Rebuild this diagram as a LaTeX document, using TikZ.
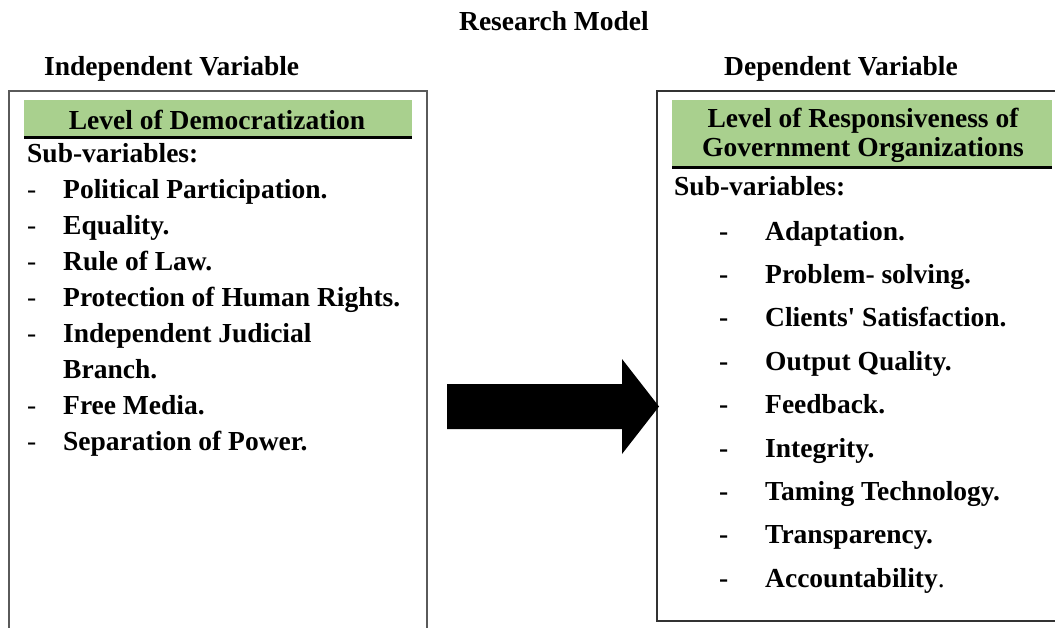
\documentclass[tikz,border=0pt]{standalone}
\usepackage{fontspec}
% a family without the TeX quote mapping, so ' stays a straight apostrophe
\newfontfamily\tnr{Liberation Serif}
\definecolor{headgreen}{RGB}{169,208,142}
\definecolor{framegray}{RGB}{90,90,90}
\begin{document}
\begin{tikzpicture}[x=1pt,y=-1pt,
  lbl/.style={inner sep=0pt, font=\tnr\fontsize{27.5}{30}\selectfont\bfseries},
  item/.style={lbl, anchor=base west},
  ldash/.style={inner sep=0pt, anchor=base west, font=\tnr\fontsize{27.5}{30}\selectfont},
  rdash/.style={item},
  headband/.style={fill=headgreen, draw=none},
  headrule/.style={line width=3pt, draw=black},
]
\useasboundingbox (0,0) rectangle (1055,627);
\clip (0,0) rectangle (1055,627);

% titles
\node[lbl, anchor=base] (title) at (554,30) {Research Model};
\node[item] (indep) at (44,75) {Independent Variable};
\node[item] (dep) at (724,75) {Dependent Variable};

% frames
\draw[framegray, line width=2pt] (9,91) rectangle (427,650);
\draw[black!80, line width=1.5pt] (657,91) rectangle (1070,621);

% header bands
\fill[headband] (24,100) rectangle (412,136);
\draw[headrule] (24,137.5) -- (412,137.5);
\fill[headband] (672,100) rectangle (1052,166);
\draw[headrule] (672,167.5) -- (1052,167.5);

\node[lbl, anchor=base] (lhead) at (217,129) {Level of Democratization};
\node[lbl, anchor=base] (rhead1) at (863,127) {Level of Responsiveness of};
\node[lbl, anchor=base] (rhead2) at (863,156) {Government Organizations};

% independent variable list
\node[item] (lsub) at (27,162) {Sub-variables:};
\foreach \t [count=\i] in {Political Participation., Equality., Rule of Law., Protection of Human Rights., Independent Judicial}
  {\node[ldash] (ld\i) at (27,162+36*\i) {-};
   \node[item] (li\i) at (63,162+36*\i) {\t};}
\node[item] (li6) at (63,378) {Branch.};
\node[ldash] (ld7) at (27,414) {-};
\node[item] (li7) at (63,414) {Free Media.};
\node[ldash] (ld8) at (27,450) {-};
\node[item] (li8) at (63,450) {Separation of Power.};

% dependent variable list
\node[item] (rsub) at (674,195) {Sub-variables:};
\foreach \t [count=\i] in {Adaptation., Problem- solving., Clients' Satisfaction., Output Quality., Feedback., Integrity., Taming Technology., Transparency.}
  {\node[rdash] (rd\i) at (719,{240+43.4*(\i-1)}) {-};
   \node[item] (ri\i) at (765,{240+43.4*(\i-1)}) {\t};}
\node[rdash] (rd9) at (719,587) {-};
\node[item] (ri9) at (765,587) {Accountability{\mdseries.}};

% block arrow between the two frames
\coordinate (atail) at (447,406.5);
\coordinate (atip) at (659,406.5);
\fill[black] (atail) ++(0,-22.5) -- ++(175,0) -- ++(0,-25) -- (atip)
  -- (622,454) -- ++(0,-25) -- ++(-175,0) -- cycle;
\end{tikzpicture}
\end{document}
